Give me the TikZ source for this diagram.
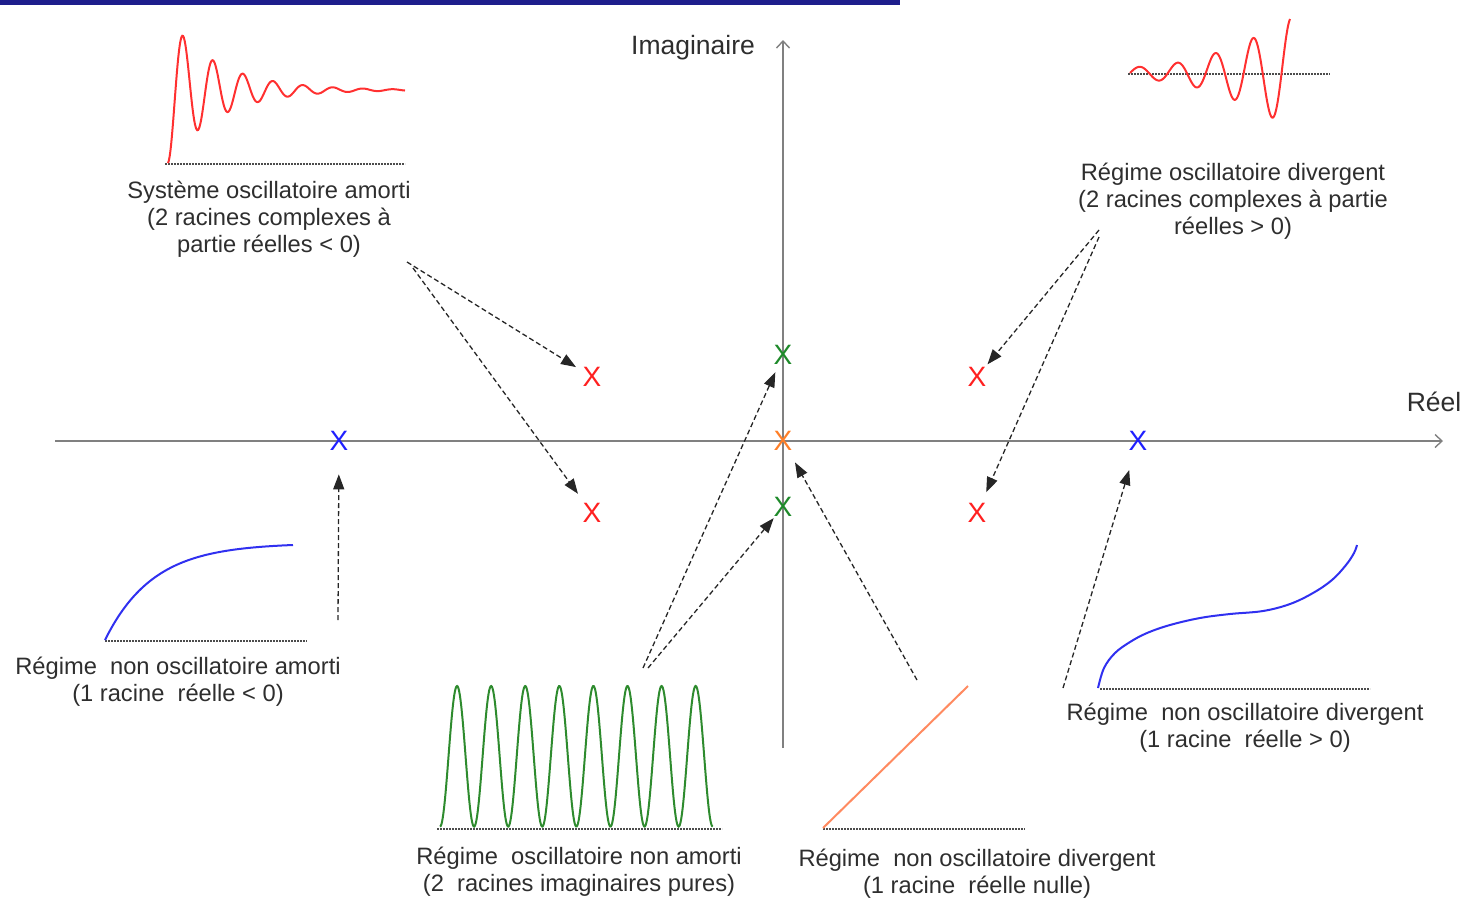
\documentclass[tikz,border=0pt]{standalone}
\usepackage{fontspec}
\setmainfont{Liberation Sans}
\usetikzlibrary{arrows.meta}
\definecolor{txt}{HTML}{2E2E2E}
\definecolor{barblue}{HTML}{1E1E8C}
\definecolor{wred}{HTML}{FF3030}
\definecolor{xred}{HTML}{FF2020}
\definecolor{xgreen}{HTML}{1E8A2A}
\definecolor{wgreen}{HTML}{2E8B2E}
\definecolor{xorange}{HTML}{FF7F27}
\definecolor{lorange}{HTML}{FF8A60}
\definecolor{xblue}{HTML}{2020FF}
\definecolor{wblue}{HTML}{3030F0}
\begin{document}
\begin{tikzpicture}[x=1pt,y=-1pt,
  lbl/.style={font=\fontsize{23.7}{27}\selectfont, text=txt, align=center, inner sep=0pt},
  axlbl/.style={font=\fontsize{26.5}{30}\selectfont, text=txt, inner sep=0pt},
  pole/.style={font=\fontsize{28}{28}\selectfont, inner sep=0.5pt},
  conn/.style={draw=black!85, line width=1.3pt, dash pattern=on 5pt off 3pt,
    -{Triangle[length=15pt,width=11pt]}},
  axis/.style={draw=gray, line width=1.4pt, -{Straight Barb[length=7pt,width=13pt]}},
  base/.style={draw=black!70, line width=1.8pt, dash pattern=on 1.8pt off 1.2pt},
  wave/.style={line width=2pt}
]
\useasboundingbox (0,0) rectangle (1463,898);
\fill[barblue] (0,0) rectangle (900,5);

% axes
\coordinate (xs) at (55,441);
\coordinate (xe) at (1443,441);
\coordinate (ys) at (783,748);
\coordinate (ye) at (783,40);
\draw[axis] (xs) -- (xe);
\draw[axis] (ys) -- (ye);
\node[axlbl] (im) at (693,48) {Imaginaire};
\node[axlbl] (re) at (1434,402) {Réel};

% poles
\node[pole, text=xred] (r1) at (592,377) {X};
\node[pole, text=xred] (r2) at (592,513) {X};
\node[pole, text=xred] (r3) at (977,377) {X};
\node[pole, text=xred] (r4) at (977,513) {X};
\node[pole, text=xgreen] (g1) at (783,355) {X};
\node[pole, text=xgreen] (g2) at (783,507) {X};
\node[pole, text=xorange] (o1) at (783,441) {X};
\node[pole, text=xblue] (b1) at (339,441) {X};
\node[pole, text=xblue] (b2) at (1138,441) {X};

% labels
\node[lbl] (t1) at (269,219) {Système oscillatoire amorti\\(2 racines complexes à\\partie réelles < 0)};
\node[lbl] (t2) at (1233,201) {Régime oscillatoire divergent\\(2 racines complexes à partie\\réelles > 0)};
\node[lbl] (t3) at (178,682) {Régime~ non oscillatoire amorti\\(1 racine~ réelle < 0)};
\node[lbl] (t4) at (1245,728) {Régime~ non oscillatoire divergent\\(1 racine~ réelle > 0)};
\node[lbl] (t5) at (579,872) {Régime~ oscillatoire non amorti\\(2~ racines imaginaires pures)};
\node[lbl] (t6) at (977,874) {Régime~ non oscillatoire divergent\\(1 racine~ réelle nulle)};

% connector start points
\coordinate (s1) at (407,262);
\coordinate (s2) at (413,268);
\coordinate (s3) at (1099,230);
\coordinate (s4) at (1099,237);
\coordinate (s5) at (338,620);
\coordinate (s6) at (1063,688);
\coordinate (s7) at (643,668);
\coordinate (s8) at (648,668);
\coordinate (s9) at (917,680);

\draw[conn, shorten >=7pt] (s1) -- (r1);
\draw[conn, shorten >=11pt] (s2) -- (r2);
\draw[conn, shorten >=3pt] (s3) -- (r3);
\draw[conn, shorten >=11.5pt] (s4) -- (r4);
\draw[conn, shorten >=23pt] (s5) -- (b1);
\draw[conn, shorten >=19.5pt] (s6) -- (b2);
\draw[conn, shorten >=7.5pt] (s7) -- (g1);
\draw[conn, shorten >=1pt] (s8) -- (g2);
\draw[conn, shorten >=12.7pt] (s9) -- (o1);

% damped oscillation
\draw[base] (165,164) -- (405,164);
\draw[wave, wred] plot[domain=0:237, samples=300, variable=\t]
  ({168+\t}, {163 - 73*(1 - exp(-0.02*\t)*cos(12*\t))});

% divergent oscillation
\draw[base] (1128,74) -- (1330,74);
\draw[wave, wred] plot[domain=0:160, samples=300, variable=\t]
  ({1130+\t}, {73 - (6+0.0019*\t*\t)*sin(9.5*\t)});

% pure oscillation
\draw[base] (437,829) -- (722,829);
\draw[wave, wgreen] plot[domain=0:272.7, samples=400, variable=\t]
  ({440+\t}, {756.3 + 70.3*cos(10.5604*\t)});

% ramp
\draw[base] (823,829) -- (1025,829);
\draw[wave, lorange] (823,828) -- (968,686);

% first order damped
\draw[base] (105,641) -- (307,641);
\draw[wave, wblue] plot[domain=0:188, samples=100, variable=\t]
  ({105+\t}, {640 - 95*(1-exp(-\t/48))/0.980});

% non oscillating divergent
\draw[base] (1100,689) -- (1370,689);
\draw[wave, wblue] plot[smooth, tension=0.6] coordinates {
  (1098,688) (1104,668) (1115,653) (1130,642) (1147,633) (1170,625)
  (1200,618) (1230,614) (1263,611) (1290,604) (1313,593) (1332,580)
  (1346,565) (1354,553) (1357,545)};
\end{tikzpicture}
\end{document}
